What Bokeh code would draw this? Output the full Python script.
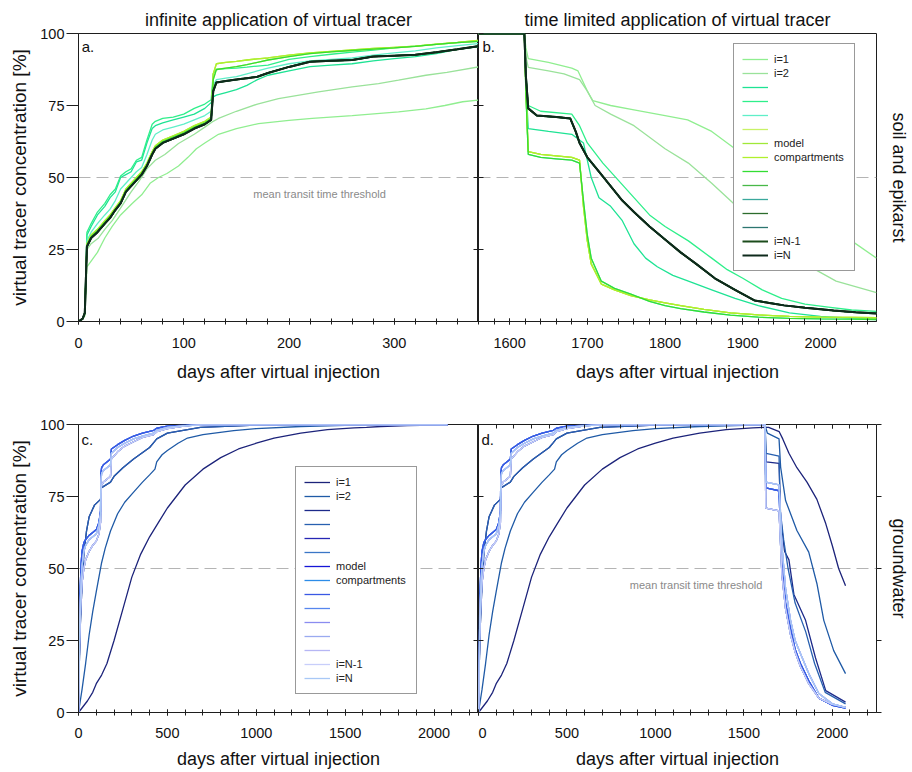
from bokeh.plotting import figure
from bokeh.models import (LinearAxis, SingleIntervalTicker, Span, Label, Legend,
                          LegendItem, Range1d, CustomLabelingPolicy)
from bokeh.layouts import column, row
from bokeh.embed import file_html
from bokeh.resources import INLINE

# ---------------- data ----------------
TITLES = ["infinite application of virtual tracer", "time limited application of virtual tracer"]
ROW_LABELS = ["soil and epikarst", "groundwater"]
X_LABEL = "days after virtual injection"
Y_LABEL = "virtual tracer concentration [%]"
THRESH_TEXT = "mean transit time threshold"
LEGEND_LABELS = ["i=1", "i=2", "", "", "", "", "model", "compartments",
                 "", "", "", "", "", "i=N-1", "i=N"]

GREENS = ["#90ee90", "#9ae29a", "#1ee394", "#2eef8a", "#5fefc8", "#c8f266", "#a0e838",
          "#b0f02c", "#33dd33", "#48b848", "#3aa89c", "#2c6c2c", "#2c7670", "#1c4c1c", "#0e2a1c"]
BLUES = ["#1c237a", "#1f5aa6", "#1c2a8a", "#2860b0", "#2626b4", "#3a76c6", "#1616d6",
         "#2c8ce8", "#3a58e4", "#5686ee", "#8a8cf0", "#9aaaf0", "#b6b6f4", "#c8cefa", "#a8c8f6"]

# panel a (soil & epikarst, infinite application)
XA = [0, 4, 6, 8, 12, 18, 25, 30, 35, 40, 45, 50, 55, 60, 65, 70, 73, 80, 90, 100,
      110, 120, 126, 128, 131, 140, 150, 160, 170, 180, 200, 220, 240, 260, 280, 300, 320, 340, 360, 380]
A_DARK = [0, 1, 3, 26, 29, 31, 34, 36, 38.7, 41, 45, 47, 49, 51, 54, 58, 60, 62, 63.5, 65,
          67, 68.5, 70, 80, 83, 83.5, 84, 84.5, 85, 86.3, 88.4, 90.2, 90.5, 90.8, 92, 92.3, 92.6, 93.5, 94.5, 95.6]
A_TOP1 = [0, 1, 3, 27, 30, 32, 35, 37, 39.5, 42, 46, 48, 50, 52, 55, 59, 61, 63, 64.5, 66,
          68, 69.5, 71, 86, 89.5, 90, 90.3, 90.8, 91.2, 91.5, 92.5, 93.3, 93.8, 94.3, 94.8, 95.2, 95.6, 96.3, 96.9, 97.6]
A_TOP2 = [0, 1, 3, 26.5, 29.5, 31.5, 34.5, 36.5, 39, 41.5, 45.5, 47.5, 49.5, 51.5, 54.5, 58.5, 60.5, 62.5, 64, 65.5,
          67.5, 69, 70.5, 84, 87.5, 88, 88.5, 89.2, 90, 90.8, 92, 93, 93.6, 94.1, 94.6, 95, 95.5, 96.2, 96.8, 97.3]
A_TEAL1 = [0, 1, 3, 30, 33, 37, 40, 43, 45, 50, 51, 52, 55.4, 56, 62, 67, 68, 69, 70, 71,
           72, 74, 76, 78, 78.6, 79.5, 80.5, 82, 84, 85.5, 87, 88.5, 89, 89.5, 90.5, 91.3, 92, 93, 94.5, 95.4]
A_TEAL2 = [0, 1, 3, 31, 34, 38, 41, 44, 46, 50.5, 52, 53, 56, 57, 63, 68.5, 69.5, 70.5, 71, 72,
           74, 75.5, 77, 86, 87.5, 87.8, 88, 88.3, 88.7, 89, 91, 92, 92.8, 93.5, 94.2, 95, 95.6, 96.2, 96.8, 97.3]
A_TEAL3 = [0, 1, 3, 28, 31, 34, 37, 39, 42, 46, 48, 50, 52, 53.5, 58, 63, 65, 66.5, 67.5, 68.5,
           70, 71.5, 73, 82, 84, 84.5, 85, 86, 87, 88, 89.5, 90.5, 91, 91.5, 92.5, 93.3, 94, 95, 95.8, 96.5]
XA_L1 = [0, 4, 6, 8, 12, 18, 25, 32, 40, 51, 60, 68, 76, 84, 95, 104, 112, 120, 133, 150,
         171, 200, 222, 260, 304, 330, 348, 365, 380]
A_L1 = [0, 1, 2, 19, 21, 24, 29, 33, 37, 41, 44, 48, 50, 51.4, 54, 57, 60, 62, 65, 67,
        68.7, 69.8, 70.5, 71.5, 72.8, 73.8, 75, 76.3, 76.9]
XA_L2 = [0, 4, 6, 8, 12, 19, 25, 32, 41, 50, 58, 65, 73, 82, 95, 110, 120, 127, 133, 150,
         170, 190, 228, 260, 285, 304, 330, 350, 380]
A_L2 = [0, 1, 2, 25, 27, 29, 32, 35, 40, 45, 49, 53, 56, 58, 61.8, 65, 67.5, 69.3, 70.5, 73,
        75.5, 77.4, 79.7, 81.5, 82.6, 83.8, 85.5, 86.5, 88.4]

# panel b (soil & epikarst, time limited application)
XB_DARK = [1560, 1619, 1621, 1624, 1635, 1660, 1678, 1685, 1690, 1700, 1715, 1730, 1745, 1760,
           1780, 1800, 1820, 1840, 1864, 1890, 1915, 1940, 1953, 1980, 2017, 2045, 2072]
B_DARK = [100, 100, 85, 74, 71.5, 71, 70.5, 66, 62, 57, 52, 47, 42, 38,
          33, 28.5, 24, 20, 15, 11, 7.3, 6.2, 5.6, 4.8, 3.8, 3.2, 2.8]
XB_Y = [1560, 1619, 1621, 1624, 1640, 1660, 1680, 1690, 1695, 1700, 1705, 1718, 1735, 1756,
        1780, 1800, 1820, 1850, 1884, 1920, 1960, 2000, 2040, 2072]
B_Y1 = [100, 100, 80, 59, 58, 57.5, 57, 56, 40, 28, 20, 13, 11, 9,
        7.5, 6.5, 5.5, 4.2, 3, 2.3, 1.8, 1.5, 1.4, 1.3]
B_Y2 = [100, 100, 79, 58, 57, 56.5, 56, 55, 42, 30, 22, 14, 11.5, 9.5,
        7, 5.5, 4.5, 3.3, 2.2, 1.5, 1.1, 0.9, 0.8, 0.7]
XB_T1 = [1560, 1619, 1621, 1624, 1650, 1680, 1695, 1705, 1715, 1730, 1745, 1760, 1775, 1790,
         1810, 1830, 1860, 1890, 1920, 1960, 2000, 2040, 2072]
B_T1 = [100, 100, 82, 67, 66, 65, 62, 50, 43, 40, 35, 27, 22, 19,
        16, 14, 11, 8, 5.5, 3, 1.8, 1.2, 1]
XB_T2 = [1560, 1619, 1621, 1624, 1640, 1680, 1690, 1700, 1720, 1740, 1760, 1780, 1800, 1830,
         1860, 1880, 1900, 1925, 1950, 1980, 2010, 2040, 2072]
B_T2 = [100, 100, 86, 75, 73, 72, 68, 62, 55, 49, 43, 37, 33, 28,
        22, 18, 15, 11, 8, 6, 5, 4, 3.5]
XB_L1 = [1560, 1619, 1621, 1624, 1650, 1680, 1688, 1700, 1707, 1730, 1760, 1800, 1829, 1860,
         1880, 1900, 1930, 1960, 2000, 2040, 2072]
B_L1 = [100, 100, 95, 91.3, 90, 88, 87, 80, 76.7, 75, 73.5, 71.5, 70, 66,
        62, 58, 52, 45, 36, 28, 22]
XB_L2 = [1560, 1619, 1621, 1624, 1650, 1670, 1690, 1700, 1710, 1730, 1760, 1800, 1830, 1860,
         1900, 1940, 1980, 2020, 2072]
B_L2 = [100, 100, 92, 88.2, 87, 86, 84, 80, 75, 72, 68, 60, 55, 48,
        38, 28, 20, 14, 10]

# groundwater: rising part (shared by c and d), tail of c, falling part of d
XG_N1 = [0, 25, 50, 80, 100, 130, 160, 200, 250, 300, 350, 400, 450, 500, 550, 600, 700, 800,
         900, 1000, 1100, 1250, 1400, 1550, 1620]
G_N1 = [0, 2, 4, 7, 10, 13, 17, 25, 36, 47, 55, 61, 66, 71, 75, 79, 84.5, 88.5,
        91.5, 93.5, 95.3, 97, 98.2, 98.8, 99]
XC_N1_TAIL = [1700, 1850, 2075]
C_N1_TAIL = [99.3, 99.6, 99.9]
XD_N1 = [1640, 1700, 1720, 1755, 1800, 1857, 1913, 1963, 2000, 2036, 2075]
D_N1 = [99, 97.5, 95, 90, 85, 80, 74, 65.6, 58, 50, 44]

XG_N2 = [0, 20, 40, 60, 80, 100, 130, 150, 180, 220, 260, 310, 360, 400, 430, 440, 470, 500,
         560, 613, 700, 873, 1000, 1250, 1500, 1620]
G_N2 = [0, 8, 17, 27, 35, 42, 52, 57, 63, 69, 73, 76.5, 80, 82.5, 84.5, 87, 89.5, 91,
        93.5, 95.3, 96.5, 97.9, 98.6, 99.3, 99.7, 99.8]
XC_N2_TAIL = [1800, 2075]
C_N2_TAIL = [99.9, 100]
XD_N2 = [1633, 1699, 1708, 1736, 1800, 1867, 1913, 1952, 2008, 2075]
D_N2 = [97, 95, 85.2, 73.6, 63.2, 55.7, 44.8, 32, 21.5, 13.5]

XG_N3 = [0, 5, 10, 20, 30, 45, 60, 90, 124, 128, 180, 200, 250, 310, 400, 423, 440, 500, 686, 1000, 1620]
G_N3 = [0, 18, 30, 45, 55, 63, 68, 72, 74, 78, 80, 82, 85, 88, 92, 93.7, 95, 97, 99, 99.8, 100]
XC_TAIL = [2075]
C_TAIL = [100]
XD_N3 = [1626, 1699, 1708, 1730, 1755, 1783, 1849, 1905, 1963, 2075]
D_N3 = [87, 86.5, 67.8, 56, 53, 41, 32, 19, 7.6, 3.6]
XD_N4 = [1626, 1699, 1706, 1725, 1750, 1790, 1850, 1900, 1960, 2075]
D_N4 = [90, 89, 70, 60, 50, 38, 28, 17, 7, 3]

XG_F = [0, 3, 6, 10, 15, 20, 30, 40, 60, 80, 100, 115, 124, 126, 130, 140, 160, 180, 185,
        220, 260, 310, 360, 423, 440, 500, 600, 700, 1620]
G_FA = [0, 15, 28, 38, 46, 51, 56, 58, 60, 61, 62, 65, 69, 80, 83, 84, 85, 86, 90,
        92, 93.5, 95, 96, 97, 98, 99, 99.6, 100, 100]
G_FB = [0, 18, 33, 44, 52, 56, 59, 60, 61.5, 62.5, 63.5, 66, 70, 83, 85, 86, 87, 88, 91.5,
        93, 94.5, 96, 97, 98, 98.7, 99.4, 99.8, 100, 100]
G_FC = [0, 12, 24, 33, 40, 45, 50, 53, 56, 58, 59.5, 62, 66, 76, 79, 80, 81, 82, 88,
        90.5, 92.5, 94, 95.5, 96.5, 97.5, 98.6, 99.5, 100, 100]
XD_F = [1624, 1699, 1705, 1715, 1736, 1764, 1790, 1820, 1867, 1924, 2000, 2075]
D_FA = [80, 79, 72, 58, 43, 32, 25, 20.5, 13.5, 6.6, 3, 1.8]
D_FB = [78, 77, 66, 52, 38, 29, 22, 17, 11, 5, 2.5, 1.5]
D_FC = [71, 70, 62, 48, 36, 27, 21, 16, 10, 5, 2.8, 1.8]

# ---------------- styling ----------------
FONT = "Liberation Sans"
AX = "#1e1e1e"
NO_LABELS_JS = "for (const i of Array.from(indices)) { indices.unset(i) }\nreturn indices"


def make_fig(xr, w, h, bl, br, bt, bb, title=None):
    p = figure(width=w, height=h, x_range=Range1d(*xr), y_range=Range1d(0, 100),
               output_backend="svg", toolbar_location=None,
               x_axis_location=None, y_axis_location=None,
               min_border_left=bl, min_border_right=br, min_border_top=bt, min_border_bottom=bb)
    p.grid.visible = False
    p.outline_line_color = AX
    p.outline_line_width = 1
    p.background_fill_color = "white"
    p.border_fill_color = "white"
    if title:
        p.title.text = title
        p.title.text_font = FONT
        p.title.text_font_size = "18px"
        p.title.text_font_style = "normal"
        p.title.align = "center"
        p.title.standoff = 7
        p.title.text_color = "#111111"
    p.add_layout(Span(location=50, dimension="width", line_color="#b4b4b4", line_width=1.2,
                      line_dash="12 6", level="underlay"))
    return p


def bottom_axis(p, xint, lab_standoff, axl_standoff):
    ax = LinearAxis(ticker=SingleIntervalTicker(interval=xint, num_minor_ticks=5),
                    major_tick_in=3, major_tick_out=3, minor_tick_in=3, minor_tick_out=3,
                    major_tick_line_color=AX, minor_tick_line_color=AX, axis_line_color=AX,
                    major_label_standoff=lab_standoff, major_label_text_font=FONT,
                    major_label_text_font_size="14.5px", major_label_text_color="#111111",
                    axis_label=X_LABEL, axis_label_text_font=FONT, axis_label_text_font_size="18px",
                    axis_label_text_font_style="normal", axis_label_text_color="#111111",
                    axis_label_standoff=axl_standoff)
    p.add_layout(ax, "below")


def left_axis(p):
    ax = LinearAxis(ticker=SingleIntervalTicker(interval=25, num_minor_ticks=0),
                    major_tick_in=0, major_tick_out=12, minor_tick_in=0, minor_tick_out=0,
                    major_tick_line_color=AX, axis_line_color=AX,
                    major_label_standoff=2, major_label_text_font=FONT,
                    major_label_text_font_size="14.5px", major_label_text_color="#111111",
                    axis_label=Y_LABEL, axis_label_text_font=FONT, axis_label_text_font_size="19px",
                    axis_label_text_font_style="normal", axis_label_text_color="#111111",
                    axis_label_standoff=7)
    p.add_layout(ax, "left")


def tick_only_axis(p, side, interval, minor, tin, tout, label=None, lab_standoff=0):
    ax = LinearAxis(ticker=SingleIntervalTicker(interval=interval, num_minor_ticks=minor),
                    major_tick_in=tin, major_tick_out=tout, minor_tick_in=tin if minor else 0,
                    minor_tick_out=tout if minor else 0,
                    major_tick_line_color=AX, minor_tick_line_color=AX, axis_line_color=None,
                    major_label_standoff=0, major_label_text_font_size="0px",
                    major_label_policy=CustomLabelingPolicy(code=NO_LABELS_JS))
    if label:
        ax.axis_label = label
        ax.axis_label_text_font = FONT
        ax.axis_label_text_font_size = "18px"
        ax.axis_label_text_font_style = "normal"
        ax.axis_label_text_color = "#111111"
        ax.axis_label_standoff = lab_standoff
    p.add_layout(ax, side)


def letter(p, x, y, t):
    p.add_layout(Label(x=x, y=y, text=t, text_font=FONT, text_font_size="15px",
                       text_baseline="top", text_align="left", text_color="#111111"))


def thresh_label(p, x, y):
    p.add_layout(Label(x=x, y=y, text=THRESH_TEXT, text_font=FONT, text_font_size="11px",
                       text_baseline="middle", text_align="left", text_color="#8a8a8a"))


def add_legend(p, renderers, loc):
    items = [LegendItem(label=LEGEND_LABELS[i], renderers=[renderers[i]]) for i in range(15)]
    lg = Legend(items=items, location=loc, label_text_font=FONT, label_text_font_size="11px",
                label_text_color="#222222", label_height=14, label_width=72,
                glyph_height=14, glyph_width=26,
                label_standoff=6, padding=8, spacing=0, margin=0,
                border_line_color="#333333", border_line_width=1,
                background_fill_color="white", background_fill_alpha=1.0)
    p.add_layout(lg)


# ---------------- panel a ----------------
pa = make_fig((0, 380), 478, 385, 78, 0, 33, 64, TITLES[0])
bottom_axis(pa, 100, 13, 11)
left_axis(pa)
tick_only_axis(pa, "right", 25, 0, 5, 0)
a_series = [(XA_L1, A_L1), (XA_L2, A_L2), (XA, A_TEAL1), (XA, A_TEAL2), (XA, A_TEAL3),
            (XA, A_TOP2), (XA, A_TOP1), (XA, A_TOP1), (XA, A_TOP2),
            (XA, A_DARK), (XA, A_DARK), (XA, A_DARK), (XA, A_DARK), (XA, A_DARK), (XA, A_DARK)]
for i, (xs, ys) in enumerate(a_series):
    pa.line(xs, ys, line_color=GREENS[i], line_width=2.0 if i >= 13 else 1.3)
letter(pa, 3, 98.6, "a.")
thresh_label(pa, 166, 44.4)

# ---------------- panel b ----------------
pb = make_fig((1560, 2072), 433, 385, 0, 32, 33, 64, TITLES[1])
bottom_axis(pb, 100, 13, 11)
tick_only_axis(pb, "left", 25, 0, 5, 0)
tick_only_axis(pb, "right", 25, 0, 0, 0, ROW_LABELS[0], 12)
b_series = [(XB_L1, B_L1), (XB_L2, B_L2), (XB_T1, B_T1), (XB_T2, B_T2), (XB_Y, B_Y2),
            (XB_Y, B_Y1), (XB_Y, B_Y1), (XB_Y, B_Y1), (XB_Y, B_Y2),
            (XB_DARK, B_DARK), (XB_DARK, B_DARK), (XB_DARK, B_DARK), (XB_DARK, B_DARK),
            (XB_DARK, B_DARK), (XB_DARK, B_DARK)]
b_rend = []
for i, (xs, ys) in enumerate(b_series):
    b_rend.append(pb.line(xs, ys, line_color=GREENS[i], line_width=2.0 if i >= 13 else 1.3))
letter(pb, 1565, 98.6, "b.")
add_legend(pb, b_rend, (255, 50))

# ---------------- panel c & d ----------------
g_rise = [(XG_N1, G_N1), (XG_N2, G_N2), (XG_N3, G_N3), (XG_N3, G_N3),
          (XG_F, G_FC), (XG_F, G_FC), (XG_F, G_FB), (XG_F, G_FB), (XG_F, G_FB), (XG_F, G_FA),
          (XG_F, G_FA), (XG_F, G_FC), (XG_F, G_FA), (XG_F, G_FC), (XG_F, G_FA)]
c_tail = [(XC_N1_TAIL, C_N1_TAIL), (XC_N2_TAIL, C_N2_TAIL)] + [(XC_TAIL, C_TAIL)] * 13
d_fall = [(XD_N1, D_N1), (XD_N2, D_N2), (XD_N3, D_N3), (XD_N4, D_N4),
          (XD_F, D_FC), (XD_F, D_FC), (XD_F, D_FB), (XD_F, D_FB), (XD_F, D_FB), (XD_F, D_FA),
          (XD_F, D_FA), (XD_F, D_FC), (XD_F, D_FA), (XD_F, D_FC), (XD_F, D_FA)]

pc = make_fig((0, 2250), 478, 386, 78, 0, 39, 59)
bottom_axis(pc, 500, 12, 8)
left_axis(pc)
tick_only_axis(pc, "right", 25, 0, 5, 0)
c_rend = []
for i in range(15):
    xs = g_rise[i][0] + c_tail[i][0]
    ys = g_rise[i][1] + c_tail[i][1]
    c_rend.append(pc.line(xs, ys, line_color=BLUES[i], line_width=1.3))
letter(pc, 17, 97.6, "c.")
add_legend(pc, c_rend, (217, 18))

pd = make_fig((0, 2250), 433, 386, 0, 32, 39, 59)
bottom_axis(pd, 500, 12, 8)
tick_only_axis(pd, "left", 25, 0, 5, 0)
tick_only_axis(pd, "above", 500, 5, 4, 0)
tick_only_axis(pd, "right", 25, 0, 0, 5, ROW_LABELS[1], 7)
for i in range(15):
    xs = g_rise[i][0] + d_fall[i][0]
    ys = g_rise[i][1] + d_fall[i][1]
    pd.line(xs, ys, line_color=BLUES[i], line_width=1.3)
letter(pd, 17, 97.6, "d.")
thresh_label(pd, 855, 44.1)

layout = column(row(pa, pb), row(pc, pd))
open("out.html", "w").write(file_html(layout, INLINE))
